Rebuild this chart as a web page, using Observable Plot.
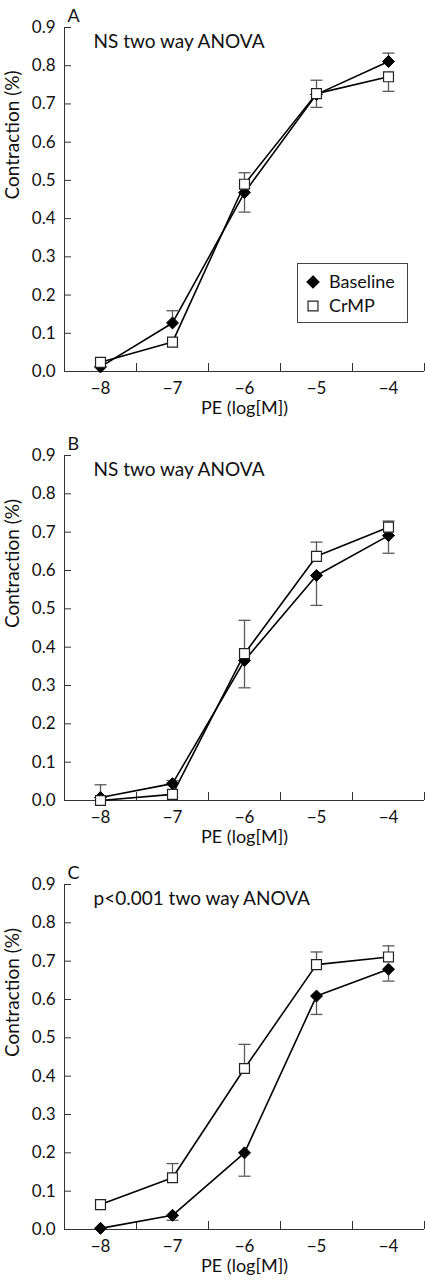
<!DOCTYPE html>
<html><head><meta charset="utf-8">
<script src="https://cdn.jsdelivr.net/npm/d3@7"></script>
<script src="https://cdn.jsdelivr.net/npm/@observablehq/plot@0.6"></script>
<style>
body{margin:0;background:#fff}
#wrap{position:relative;width:425px}
#wrap svg{display:block}
.legend{position:absolute;left:297px;top:263px;width:111px;height:60px;border:1px solid #444;box-sizing:border-box;background:#fff}
</style></head><body><div id="wrap"></div>
<script>
const doses = [-8, -7, -6, -5, -4];
const xTickLabels = ["−8", "−7", "−6", "−5", "−4"];
const xBoundaries = [-7.5, -6.5, -5.5, -4.5, -3.5];
const yTicks = [0, 0.1, 0.2, 0.3, 0.4, 0.5, 0.6, 0.7, 0.8, 0.9];
const seriesNames = ["Baseline", "CrMP"];
const panelLetters = ["A", "B", "C"];
const panelNotes = ["NS two way ANOVA", "NS two way ANOVA", "p<0.001 two way ANOVA"];
const xLabel = "PE (log[M])";
const yLabel = "Contraction (%)";

// Panel A
const baselineA = [0.012, 0.127, 0.468, 0.725, 0.811];
const baselineBarA = [null, 0.159, 0.417, 0.691, 0.833];
const crmpA = [0.024, 0.077, 0.490, 0.727, 0.771];
const crmpBarA = [null, null, 0.520, 0.762, 0.733];
// Panel B
const baselineB = [0.008, 0.044, 0.365, 0.587, 0.691];
const baselineBarB = [0.041, 0.052, 0.294, 0.509, 0.645];
const crmpB = [0.000, 0.016, 0.383, 0.637, 0.713];
const crmpBarB = [null, null, 0.470, 0.674, 0.729];
// Panel C
const baselineC = [0.003, 0.037, 0.200, 0.609, 0.679];
const baselineBarC = [null, 0.024, 0.139, 0.561, 0.648];
const crmpC = [0.065, 0.135, 0.420, 0.691, 0.711];
const crmpBarC = [null, 0.172, 0.483, 0.724, 0.740];

const capSymbol = {draw(context, size) { const w = Math.sqrt(size) / 2; context.moveTo(-w, 0); context.lineTo(w, 0); }};

function panel(idx, base, baseBar, crmp, crmpBar, height, marginTop, marginBottom) {
  const rows = doses.map((d, j) => ({dose: d, baseline: base[j], bBar: baseBar[j], crmp: crmp[j], cBar: crmpBar[j]}));
  const bBars = rows.filter(r => r.bBar != null);
  const cBars = rows.filter(r => r.cBar != null);
  const errStroke = "#5a5a5a";
  return Plot.plot({
    width: 425, height, marginTop, marginBottom, marginLeft: 64, marginRight: 1,
    style: {fontFamily: "Lato, sans-serif", fontSize: "17px", color: "#111", background: "#fff"},
    x: {domain: [-8.5, -3.5]},
    y: {domain: [0, 0.9]},
    marks: [
      Plot.axisY(yTicks, {tickSize: -7, tickPadding: 16, tickFormat: d => d.toFixed(1), label: null, stroke: "#333"}),
      Plot.axisX(xBoundaries, {tickSize: -8, tickFormat: () => "", label: null, stroke: "#333"}),
      Plot.axisX(doses, {tickSize: 0, tickPadding: 10, tickFormat: d => xTickLabels[doses.indexOf(d)], label: null}),
      Plot.ruleY([0], {stroke: "#333"}),
      Plot.ruleX([-8.5], {y1: 0, y2: 0.9, stroke: "#333"}),
      Plot.line(rows, {x: "dose", y: "baseline", stroke: "#000", strokeWidth: 1.6}),
      Plot.line(rows, {x: "dose", y: "crmp", stroke: "#000", strokeWidth: 1.6}),
      Plot.ruleX(bBars, {x: "dose", y1: "baseline", y2: "bBar", stroke: errStroke, strokeWidth: 1.3}),
      Plot.dot(bBars, {x: "dose", y: "bBar", symbol: capSymbol, r: 6.77, fill: "none", stroke: errStroke, strokeWidth: 1.3}),
      Plot.ruleX(cBars, {x: "dose", y1: "crmp", y2: "cBar", stroke: errStroke, strokeWidth: 1.3}),
      Plot.dot(cBars, {x: "dose", y: "cBar", symbol: capSymbol, r: 6.77, fill: "none", stroke: errStroke, strokeWidth: 1.3}),
      Plot.dot(rows, {x: "dose", y: "baseline", symbol: "diamond2", r: 5.4, fill: "#000", stroke: "#000", strokeWidth: 1}),
      Plot.dot(rows, {x: "dose", y: "crmp", symbol: "square", r: 5.6, fill: "#fff", stroke: "#222", strokeWidth: 1.2}),
      Plot.text([panelLetters[idx]], {text: d => d, frameAnchor: "top-left", dx: 3, dy: -18, textAnchor: "start", fontSize: 18}),
      Plot.text([panelNotes[idx]], {text: d => d, frameAnchor: "top-left", dx: 29, dy: 7, textAnchor: "start", fontSize: 19}),
      Plot.text([yLabel], {text: d => d, frameAnchor: "left", dx: -52, rotate: -90, fontSize: 19}),
      Plot.text([xLabel], {text: d => d, frameAnchor: "bottom", dy: 42, fontSize: 18})
    ]
  });
}

const wrap = document.getElementById("wrap");
wrap.append(panel(0, baselineA, baselineBarA, crmpA, crmpBarA, 423, 27, 52));
wrap.append(panel(1, baselineB, baselineBarB, crmpB, crmpBarB, 429, 32, 52));
wrap.append(panel(2, baselineC, baselineBarC, crmpC, crmpBarC, 428, 32, 51));

// Legend (inside panel A)
const legend = d3.select(wrap).append("div").attr("class", "legend");
const lsvg = legend.append("svg").attr("width", 109).attr("height", 58).style("font-family", "Lato, sans-serif").style("font-size", "18px");
const legendSymbols = [
  {path: d3.symbol(d3.symbolDiamond2, 5.4 * 5.4 * Math.PI)(), fill: "#000", stroke: "#000"},
  {path: d3.symbol(d3.symbolSquare, 5.6 * 5.6 * Math.PI)(), fill: "#fff", stroke: "#222"}
];
seriesNames.forEach((name, i) => {
  const g = lsvg.append("g").attr("transform", `translate(15,${18 + i * 24})`);
  g.append("path").attr("d", legendSymbols[i].path).attr("fill", legendSymbols[i].fill).attr("stroke", legendSymbols[i].stroke).attr("stroke-width", 1.2);
  g.append("text").attr("x", 16).attr("dy", "0.35em").attr("fill", "#111").text(name);
});
</script></body></html>
